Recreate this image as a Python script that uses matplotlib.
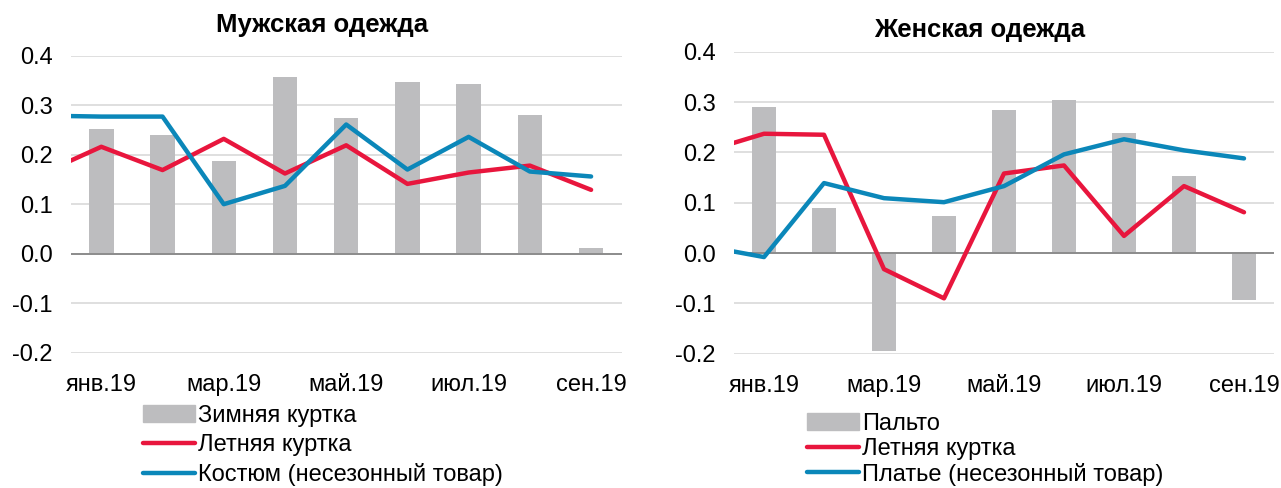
import numpy as np
import matplotlib
matplotlib.use("Agg")
import matplotlib.pyplot as plt
from matplotlib.patches import Patch
from matplotlib.lines import Line2D

plt.rcParams["font.family"] = ["Liberation Sans", "DejaVu Sans"]

# категории: янв..сен 2019; линии начинаются с дек.18 (обрезается краем оси)
MESYATSY = ["янв.19", "фев.19", "мар.19", "апр.19", "май.19", "июн.19", "июл.19", "авг.19", "сен.19"]

# Мужская одежда
m_zima   = [0.252, 0.240, 0.187, 0.356, 0.275, 0.347, 0.343, 0.280, 0.011]
m_leto   = [0.160, 0.216, 0.169, 0.232, 0.162, 0.219, 0.141, 0.164, 0.178, 0.129]
m_kostum = [0.279, 0.277, 0.277, 0.100, 0.137, 0.261, 0.170, 0.236, 0.166, 0.156]

# Женская одежда
w_palto  = [0.290, 0.089, -0.195, 0.074, 0.284, 0.304, 0.239, 0.153, -0.093]
w_leto   = [0.201, 0.237, 0.235, -0.032, -0.090, 0.158, 0.174, 0.034, 0.133, 0.081]
w_plate  = [0.014, -0.008, 0.139, 0.109, 0.101, 0.133, 0.196, 0.226, 0.204, 0.188]

C_BAR, C_RED, C_BLUE = "#bdbdbf", "#e8163d", "#0b87b9"
W, H = 1281, 488
FS = 17

fig = plt.figure(figsize=(W / 100, H / 100), dpi=100, facecolor="white")


def panel(rect, title, bars, red, blue, names, leg_xy, leg_sp, title_xy):
    ax = fig.add_axes(rect)
    x = np.arange(len(bars))
    xl = np.arange(-1, len(bars))
    ax.bar(x, bars, width=0.4, color=C_BAR, zorder=2)
    ax.plot(xl, red, color=C_RED, lw=3.2, zorder=3, solid_capstyle="round")
    ax.plot(xl, blue, color=C_BLUE, lw=3.2, zorder=4, solid_capstyle="round")
    ax.set_xlim(-0.5, len(bars) - 0.5)
    ax.set_ylim(-0.2, 0.4)
    ax.set_yticks(np.arange(-0.2, 0.41, 0.1))
    ax.yaxis.set_major_formatter(matplotlib.ticker.FormatStrFormatter("%.1f"))
    ax.set_xticks(x[::2])
    ax.set_xticklabels(MESYATSY[::2])
    ax.tick_params(length=0, labelsize=FS, colors="black", pad=15)
    ax.tick_params(axis="y", pad=13)
    ax.grid(axis="y", color="#d9d9d9", lw=1.2, zorder=0)
    ax.axhline(0, color="#8c8c8c", lw=1.4, zorder=2.5)
    for s in ax.spines.values():
        s.set_visible(False)
    fig.text(title_xy[0], title_xy[1], title, ha="center", va="center", fontsize=18.5, weight="bold")
    handles = [Patch(color=C_BAR), Line2D([], [], color=C_RED, lw=3.2, solid_capstyle="round"),
               Line2D([], [], color=C_BLUE, lw=3.2, solid_capstyle="round")]
    fig.legend(handles, names, loc="upper left", bbox_to_anchor=leg_xy, frameon=False,
               fontsize=FS, handlelength=2.2, handletextpad=0.15, labelspacing=leg_sp,
               borderaxespad=0, borderpad=0)
    return ax


panel([70.7 / W, 1 - 352.7 / H, 551 / W, 297 / H], "Мужская одежда", m_zima, m_leto, m_kostum,
      ["Зимняя куртка", "Летняя куртка", "Костюм (несезонный товар)"],
      (143 / W, 1 - 405 / H), 0.3, (322 / W, 1 - 25 / H))
panel([734 / W, 1 - 353.7 / H, 540 / W, 302 / H], "Женская одежда", w_palto, w_leto, w_plate,
      ["Пальто", "Летняя куртка", "Платье (несезонный товар)"],
      (807 / W, 1 - 413 / H), 0.12, (980 / W, 1 - 30 / H))

fig.savefig("out.png", dpi=100, facecolor="white")
